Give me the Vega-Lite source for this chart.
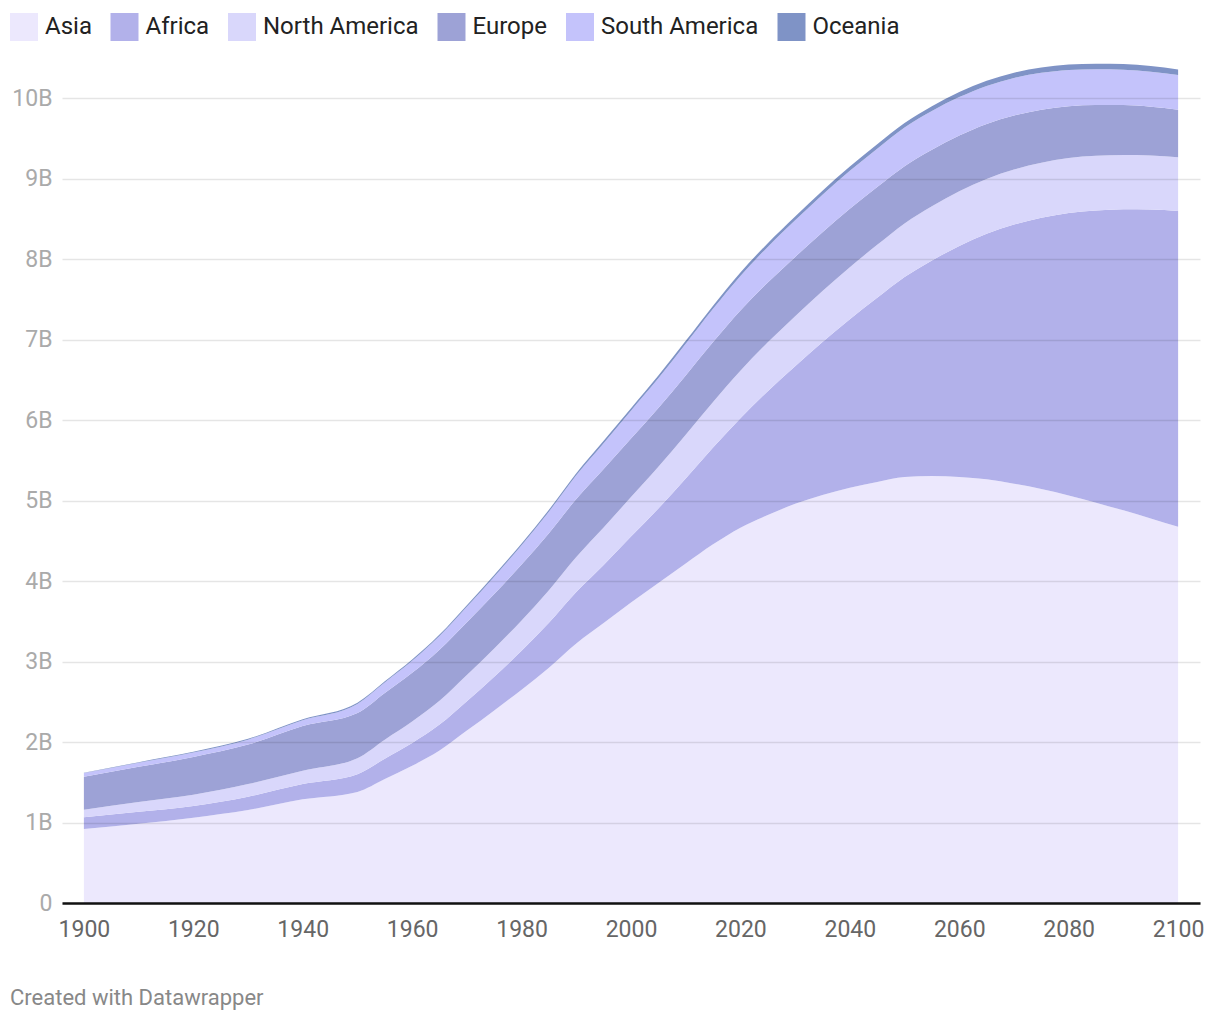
{
  "$schema": "https://vega.github.io/schema/vega-lite/v6.json",
  "autosize": {"type": "none"},
  "width": 1138,
  "height": 845,
  "padding": {"left": 62, "top": 58, "right": 20, "bottom": 117},
  "background": "white",
  "config": {"view": {"stroke": null}, "font": "Roboto"},
  "title": {"text": "Created with Datawrapper", "orient": "bottom", "anchor": "start", "frame": "group", "dx": -52, "offset": 47, "fontSize": 22, "font": "Roboto", "fontWeight": "normal", "color": "#888888"},
  "data": {"values": [
    {"year": 1900, "Asia": 0.92, "Africa": 0.145, "North America": 0.095, "Europe": 0.41, "South America": 0.044, "Oceania": 0.006},
    {"year": 1910, "Asia": 0.985, "Africa": 0.148, "North America": 0.122, "Europe": 0.437, "South America": 0.05, "Oceania": 0.008},
    {"year": 1920, "Asia": 1.06, "Africa": 0.145, "North America": 0.14, "Europe": 0.47, "South America": 0.055, "Oceania": 0.009},
    {"year": 1930, "Asia": 1.155, "Africa": 0.166, "North America": 0.157, "Europe": 0.49, "South America": 0.062, "Oceania": 0.01},
    {"year": 1940, "Asia": 1.288, "Africa": 0.19, "North America": 0.166, "Europe": 0.555, "South America": 0.072, "Oceania": 0.011},
    {"year": 1950, "Asia": 1.38, "Africa": 0.22, "North America": 0.2, "Europe": 0.56, "South America": 0.114, "Oceania": 0.013},
    {"year": 1955, "Asia": 1.54, "Africa": 0.254, "North America": 0.235, "Europe": 0.58, "South America": 0.131, "Oceania": 0.014},
    {"year": 1960, "Asia": 1.705, "Africa": 0.284, "North America": 0.265, "Europe": 0.606, "South America": 0.149, "Oceania": 0.016},
    {"year": 1965, "Asia": 1.895, "Africa": 0.322, "North America": 0.295, "Europe": 0.635, "South America": 0.17, "Oceania": 0.018},
    {"year": 1970, "Asia": 2.142, "Africa": 0.365, "North America": 0.325, "Europe": 0.657, "South America": 0.192, "Oceania": 0.02},
    {"year": 1975, "Asia": 2.393, "Africa": 0.418, "North America": 0.352, "Europe": 0.677, "South America": 0.215, "Oceania": 0.021},
    {"year": 1980, "Asia": 2.65, "Africa": 0.483, "North America": 0.378, "Europe": 0.694, "South America": 0.24, "Oceania": 0.023},
    {"year": 1985, "Asia": 2.924, "Africa": 0.558, "North America": 0.405, "Europe": 0.708, "South America": 0.267, "Oceania": 0.025},
    {"year": 1990, "Asia": 3.226, "Africa": 0.638, "North America": 0.434, "Europe": 0.721, "South America": 0.295, "Oceania": 0.027},
    {"year": 1995, "Asia": 3.479, "Africa": 0.722, "North America": 0.464, "Europe": 0.727, "South America": 0.322, "Oceania": 0.029},
    {"year": 2000, "Asia": 3.735, "Africa": 0.818, "North America": 0.492, "Europe": 0.726, "South America": 0.347, "Oceania": 0.031},
    {"year": 2005, "Asia": 3.977, "Africa": 0.926, "North America": 0.518, "Europe": 0.729, "South America": 0.37, "Oceania": 0.034},
    {"year": 2010, "Asia": 4.22, "Africa": 1.055, "North America": 0.545, "Europe": 0.736, "South America": 0.392, "Oceania": 0.037},
    {"year": 2015, "Asia": 4.458, "Africa": 1.201, "North America": 0.568, "Europe": 0.743, "South America": 0.413, "Oceania": 0.04},
    {"year": 2020, "Asia": 4.664, "Africa": 1.361, "North America": 0.59, "Europe": 0.746, "South America": 0.431, "Oceania": 0.043},
    {"year": 2025, "Asia": 4.82, "Africa": 1.54, "North America": 0.607, "Europe": 0.742, "South America": 0.444, "Oceania": 0.046},
    {"year": 2030, "Asia": 4.96, "Africa": 1.71, "North America": 0.622, "Europe": 0.736, "South America": 0.455, "Oceania": 0.048},
    {"year": 2035, "Asia": 5.07, "Africa": 1.9, "North America": 0.636, "Europe": 0.73, "South America": 0.465, "Oceania": 0.051},
    {"year": 2040, "Asia": 5.16, "Africa": 2.093, "North America": 0.648, "Europe": 0.725, "South America": 0.472, "Oceania": 0.053},
    {"year": 2045, "Asia": 5.23, "Africa": 2.29, "North America": 0.658, "Europe": 0.718, "South America": 0.477, "Oceania": 0.056},
    {"year": 2050, "Asia": 5.293, "Africa": 2.485, "North America": 0.667, "Europe": 0.71, "South America": 0.48, "Oceania": 0.058},
    {"year": 2055, "Asia": 5.305, "Africa": 2.68, "North America": 0.674, "Europe": 0.702, "South America": 0.48, "Oceania": 0.06},
    {"year": 2060, "Asia": 5.295, "Africa": 2.87, "North America": 0.679, "Europe": 0.692, "South America": 0.478, "Oceania": 0.062},
    {"year": 2065, "Asia": 5.265, "Africa": 3.05, "North America": 0.682, "Europe": 0.682, "South America": 0.474, "Oceania": 0.063},
    {"year": 2070, "Asia": 5.21, "Africa": 3.22, "North America": 0.684, "Europe": 0.67, "South America": 0.469, "Oceania": 0.065},
    {"year": 2075, "Asia": 5.145, "Africa": 3.37, "North America": 0.684, "Europe": 0.657, "South America": 0.46, "Oceania": 0.066},
    {"year": 2080, "Asia": 5.065, "Africa": 3.51, "North America": 0.682, "Europe": 0.645, "South America": 0.45, "Oceania": 0.067},
    {"year": 2085, "Asia": 4.975, "Africa": 3.63, "North America": 0.679, "Europe": 0.632, "South America": 0.445, "Oceania": 0.068},
    {"year": 2090, "Asia": 4.88, "Africa": 3.74, "North America": 0.676, "Europe": 0.619, "South America": 0.44, "Oceania": 0.069},
    {"year": 2095, "Asia": 4.777, "Africa": 3.84, "North America": 0.673, "Europe": 0.605, "South America": 0.435, "Oceania": 0.07},
    {"year": 2100, "Asia": 4.674, "Africa": 3.924, "North America": 0.67, "Europe": 0.59, "South America": 0.43, "Oceania": 0.07}
  ]},
  "transform": [
    {"fold": ["Asia", "Africa", "North America", "Europe", "South America", "Oceania"], "as": ["continent", "pop"]},
    {"calculate": "indexof(['Asia', 'Africa', 'North America', 'Europe', 'South America', 'Oceania'], datum.continent)", "as": "stackOrder"}
  ],
  "mark": {"type": "area", "interpolate": "monotone", "opacity": 1},
  "encoding": {
    "x": {
      "field": "year", "type": "quantitative",
      "scale": {"domain": [1896, 2104], "nice": false, "zero": false},
      "axis": {
        "title": null, "values": [1900, 1920, 1940, 1960, 1980, 2000, 2020, 2040, 2060, 2080, 2100],
        "format": "d", "grid": false, "ticks": false,
        "domain": true, "domainColor": "#111111", "domainWidth": 2.5,
        "labelFont": "Roboto", "labelFontSize": 23, "labelColor": "#666666", "labelPadding": 15,
        "zindex": 1
      }
    },
    "y": {
      "field": "pop", "type": "quantitative", "stack": "zero",
      "scale": {"domain": [0, 10.5], "nice": false},
      "axis": {
        "title": null, "values": [0, 1, 2, 3, 4, 5, 6, 7, 8, 9, 10],
        "labelExpr": "datum.value == 0 ? '0' : datum.value + 'B'",
        "domain": false, "ticks": false,
        "grid": true, "gridColor": "#000000", "gridOpacity": 0.1, "gridWidth": 1.5,
        "labelFont": "Roboto", "labelFontSize": 23, "labelColor": "#aaaaaa", "labelPadding": 10,
        "zindex": 1
      }
    },
    "order": {"field": "stackOrder", "type": "quantitative"},
    "color": {
      "field": "continent", "type": "nominal",
      "sort": ["Asia", "Africa", "North America", "Europe", "South America", "Oceania"],
      "scale": {
        "domain": ["Asia", "Africa", "North America", "Europe", "South America", "Oceania"],
        "range": ["#ece8fd", "#b2b1ea", "#d9d7fb", "#9da2d6", "#c4c3fb", "#7f93c6"]
      },
      "legend": {
        "title": null, "orient": "none", "direction": "horizontal",
        "legendX": -52, "legendY": -45,
        "symbolType": "square", "symbolSize": 784, "symbolStrokeWidth": 0, "symbolOpacity": 1,
        "labelFont": "Roboto", "labelFontSize": 24, "labelColor": "#222222", "labelOffset": 7,
        "columnPadding": 18.5
      }
    }
  }
}
